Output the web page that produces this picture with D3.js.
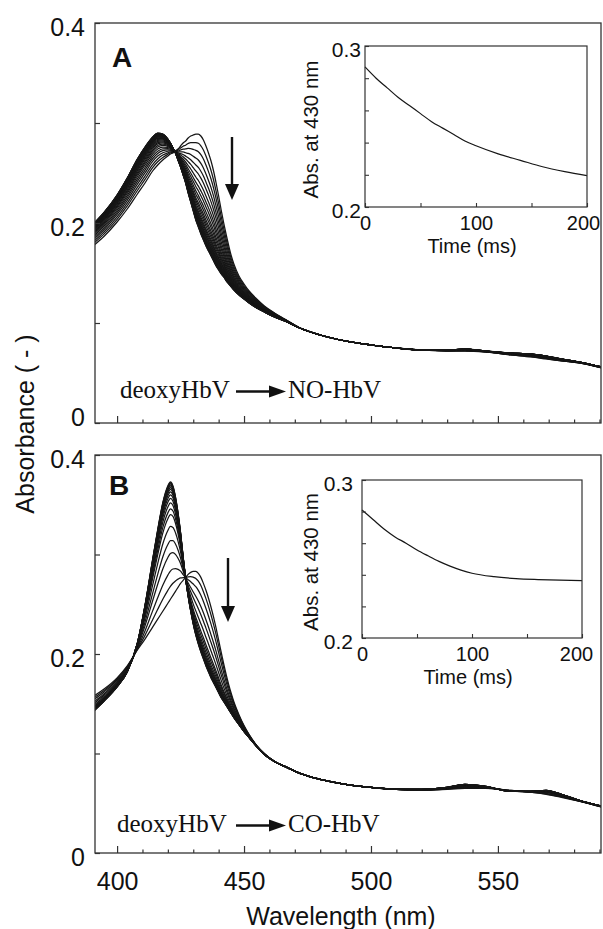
<!DOCTYPE html>
<html>
<head>
<meta charset="utf-8">
<title>deoxyHbV → NO-HbV / CO-HbV</title>
<script src="https://d3js.org/d3.v7.min.js"></script>
<style>
  body { margin: 0; background: #fff; }
  svg text { fill: #111; font-family: "Liberation Sans", Arial, sans-serif; }
</style>
</head>
<body>
<svg width="603" height="929"></svg>
<script>
// wavelength grid (nm) shared by all endpoint spectra
var wavelengths = [391, 395, 400, 404, 408, 411, 414, 416, 418, 420,
    421, 422, 423, 424, 425, 426, 427, 428, 429, 430,
    431, 432, 433, 434, 435, 436, 437, 438, 439, 440,
    441, 442, 443, 444, 445, 446,
    448, 450, 452, 455, 458, 462, 466, 472,
    480, 490, 500, 510, 520, 530, 537, 545,
    555, 563, 569, 575, 582, 591];

// panel A: first (deoxyHbV) and last (NO-HbV) spectra
var deoxyA = [0.178, 0.187, 0.201, 0.214, 0.229, 0.240, 0.252, 0.258, 0.263, 0.267,
    0.269, 0.270, 0.272, 0.274, 0.277, 0.280, 0.282, 0.285, 0.287, 0.288,
    0.289, 0.289, 0.287, 0.283, 0.277, 0.270, 0.262, 0.252, 0.240, 0.227,
    0.213, 0.200, 0.188, 0.177, 0.167, 0.159,
    0.147, 0.139, 0.132, 0.124, 0.117, 0.110, 0.104, 0.095,
    0.088, 0.082, 0.078, 0.075, 0.073, 0.072, 0.072, 0.071,
    0.068, 0.066, 0.064, 0.062, 0.060, 0.055];
var noA = [0.200, 0.211, 0.228, 0.245, 0.264, 0.276, 0.286, 0.290, 0.289, 0.284,
    0.280, 0.275, 0.270, 0.263, 0.256, 0.248, 0.240, 0.230, 0.221, 0.212,
    0.203, 0.196, 0.189, 0.183, 0.177, 0.172, 0.167, 0.162, 0.157, 0.153,
    0.149, 0.146, 0.142, 0.139, 0.136, 0.133,
    0.128, 0.124, 0.120, 0.115, 0.111, 0.106, 0.102, 0.095,
    0.088, 0.082, 0.078, 0.075, 0.073, 0.073, 0.074, 0.072,
    0.070, 0.069, 0.067, 0.064, 0.061, 0.056];
// fraction converted for each recorded spectrum
var fracA = [0, 0.1, 0.19, 0.28, 0.36, 0.43, 0.5, 0.56, 0.61, 0.66, 0.7, 0.74, 0.77, 0.8,
    0.83, 0.85, 0.87, 0.89, 0.905, 0.92, 0.935, 0.948, 0.96, 0.97, 0.98, 0.988, 0.995, 1];

// panel B: first (deoxyHbV) and last (CO-HbV) spectra
var deoxyB = [0.158, 0.165, 0.176, 0.188, 0.204, 0.215, 0.227, 0.235, 0.243, 0.251,
    0.255, 0.259, 0.263, 0.267, 0.271, 0.274, 0.277, 0.280, 0.282, 0.283,
    0.283, 0.281, 0.277, 0.271, 0.264, 0.256, 0.247, 0.237, 0.226, 0.214,
    0.202, 0.190, 0.179, 0.169, 0.160, 0.152,
    0.139, 0.128, 0.119, 0.108, 0.100, 0.092, 0.087, 0.080,
    0.074, 0.069, 0.066, 0.064, 0.063, 0.064, 0.065, 0.065,
    0.063, 0.061, 0.059, 0.056, 0.052, 0.046];
var coB = [0.143, 0.153, 0.167, 0.182, 0.211, 0.249, 0.295, 0.325, 0.352, 0.369,
    0.373, 0.369, 0.358, 0.342, 0.322, 0.298, 0.276, 0.258, 0.243, 0.230,
    0.219, 0.210, 0.202, 0.195, 0.188, 0.182, 0.176, 0.171, 0.166, 0.161,
    0.156, 0.152, 0.148, 0.144, 0.140, 0.136,
    0.129, 0.122, 0.116, 0.107, 0.099, 0.092, 0.087, 0.080,
    0.074, 0.069, 0.066, 0.064, 0.064, 0.066, 0.069, 0.067,
    0.062, 0.062, 0.063, 0.059, 0.053, 0.047];
var fracB = [0, 0.11, 0.24, 0.39, 0.5, 0.62, 0.72, 0.77, 0.82, 0.86, 0.89, 0.915,
    0.935, 0.95, 0.965, 0.975, 0.985, 0.993, 1];

// insets: absorbance at 430 nm vs time
var insetTime = [0, 10, 20, 30, 40, 50, 60, 70, 80, 90, 100, 120, 140, 160, 180, 200];
var insetAbsA = [0.287, 0.280, 0.274, 0.268, 0.263, 0.258, 0.253, 0.249, 0.245, 0.241,
    0.238, 0.233, 0.229, 0.225, 0.222, 0.2195];
var insetAbsB = [0.281, 0.275, 0.269, 0.264, 0.260, 0.2557, 0.252, 0.2485, 0.2455, 0.243,
    0.241, 0.2388, 0.2376, 0.237, 0.2366, 0.2363];

var yTicks = [0, 0.1, 0.2, 0.3, 0.4];
var xMajor = [400, 450, 500, 550];
var xMinor = d3.range(400, 591, 10).filter(function(d) { return d % 50 !== 0; });
var insetYTicks = [0.2, 0.22, 0.24, 0.26, 0.28, 0.3];
var insetXTicks = [0, 50, 100, 150, 200];

var svg = d3.select("svg");
var ink = "#161616";

var x = d3.scaleLinear().domain([391.3, 590.6]).range([95, 601]);

function drawPanel(p) {
    var y = d3.scaleLinear().domain([0, 0.4]).range([p.bottom, p.top]);
    var g = svg.append("g");

    g.append("clipPath").attr("id", "clip" + p.name)
        .append("rect").attr("x", 95).attr("y", p.top)
        .attr("width", 506).attr("height", p.bottom - p.top);

    var line = d3.line()
        .x(function(d) { return x(d[0]); })
        .y(function(d) { return y(d[1]); })
        .curve(d3.curveMonotoneX);

    // each recorded spectrum = mixture of first and last spectrum
    var curves = p.frac.map(function(f) {
        return wavelengths.map(function(w, i) {
            return [w, p.start[i] * (1 - f) + p.end[i] * f];
        });
    });
    g.append("g").attr("clip-path", "url(#clip" + p.name + ")")
        .selectAll("path").data(curves).enter().append("path")
        .attr("d", line)
        .attr("fill", "none")
        .attr("stroke", ink)
        .attr("stroke-width", 1.25);

    // y axis, ticks inward
    var ya = g.append("g").attr("transform", "translate(95,0)")
        .call(d3.axisLeft(y).tickValues(yTicks).tickSizeInner(-5).tickSizeOuter(0)
            .tickPadding(10)
            .tickFormat(function(d) {
                if (d === 0) return "0";
                return (Math.round(d * 10) % 2 === 0) ? d3.format(".1f")(d) : "";
            }));
    ya.selectAll("text").attr("font-size", 25).attr("dy", "0.5em")
        .filter(function(d) { return d === 0 && p.name === "A"; }).attr("dy", "0.1em");

    // x axis, major and minor ticks inward
    var xa = g.append("g").attr("transform", "translate(0," + p.bottom + ")")
        .call(d3.axisBottom(x).tickValues(xMajor).tickSizeInner(-7).tickSizeOuter(0)
            .tickPadding(19)
            .tickFormat(p.xLabels ? d3.format("d") : function() { return ""; }));
    xa.selectAll("text").attr("font-size", 25);
    g.append("g").attr("transform", "translate(0," + p.bottom + ")")
        .call(d3.axisBottom(x).tickValues(xMinor).tickSizeInner(-3.5).tickSizeOuter(0)
            .tickFormat(function() { return ""; }));

    g.selectAll(".domain").remove();
    g.selectAll(".tick line").attr("stroke", "#333").attr("stroke-width", 1.2);

    g.append("rect").attr("x", 95).attr("y", p.top)
        .attr("width", 506).attr("height", p.bottom - p.top)
        .attr("fill", "none").attr("stroke", "#333").attr("stroke-width", 1.3);

    // panel letter
    g.append("text").attr("x", p.letterX).attr("y", p.letterY)
        .attr("font-size", 28).attr("font-weight", "bold").text(p.name);

    // downward arrow
    g.append("line").attr("x1", p.arrowX).attr("x2", p.arrowX)
        .attr("y1", p.arrowTop).attr("y2", p.arrowBottom - 12)
        .attr("stroke", "#111").attr("stroke-width", 2.4);
    g.append("path")
        .attr("d", "M" + (p.arrowX - 7) + "," + (p.arrowBottom - 16) +
            " L" + p.arrowX + "," + p.arrowBottom +
            " L" + (p.arrowX + 7) + "," + (p.arrowBottom - 16) + " Z")
        .attr("fill", "#111");

    // reaction label
    var t = g.append("g").attr("transform", "translate(0," + p.reactY + ")");
    t.append("text").attr("x", p.reactX).attr("y", 0)
        .style("font-family", "'Liberation Serif', 'Times New Roman', serif")
        .attr("font-size", 25).text("deoxyHbV");
    t.append("line").attr("x1", 236).attr("x2", 272).attr("y1", -6.5).attr("y2", -6.5)
        .attr("stroke", "#111").attr("stroke-width", 2.4);
    t.append("path").attr("d", "M269,-12.5 L286,-6.5 L269,-0.5 Z").attr("fill", "#111");
    t.append("text").attr("x", 288).attr("y", 0)
        .style("font-family", "'Liberation Serif', 'Times New Roman', serif")
        .attr("font-size", 25).text(p.product);
}

function drawInset(s) {
    var ix = d3.scaleLinear().domain([0, 200]).range([s.left, s.right]);
    var iy = d3.scaleLinear().domain([0.2, 0.3]).range([s.bottom, s.top]);
    var g = svg.append("g");

    g.append("rect").attr("x", s.left).attr("y", s.top)
        .attr("width", s.right - s.left).attr("height", s.bottom - s.top)
        .attr("fill", "#fff");

    g.append("path")
        .datum(insetTime.map(function(t, i) { return [t, s.values[i]]; }))
        .attr("d", d3.line()
            .x(function(d) { return ix(d[0]); })
            .y(function(d) { return iy(d[1]); })
            .curve(d3.curveMonotoneX))
        .attr("fill", "none").attr("stroke", ink).attr("stroke-width", 1.2);

    var ya = g.append("g").attr("transform", "translate(" + s.left + ",0)")
        .call(d3.axisLeft(iy).tickValues(insetYTicks).tickSizeInner(-4).tickSizeOuter(0)
            .tickPadding(s.yPad)
            .tickFormat(function(d) {
                return (d === 0.2 || d === 0.3) ? d3.format(".1f")(d) : "";
            }));
    ya.selectAll("text").attr("font-size", 21).attr("dy", "0.5em");

    var xa = g.append("g").attr("transform", "translate(0," + s.bottom + ")")
        .call(d3.axisBottom(ix).tickValues(insetXTicks).tickSizeInner(-4).tickSizeOuter(0)
            .tickPadding(9)
            .tickFormat(function(d) { return d % 100 === 0 ? String(d) : ""; }));
    xa.selectAll("text").attr("font-size", 20)
        .filter(function(d) { return d === 200; }).attr("dx", s.endShift);

    g.selectAll(".domain").remove();
    g.selectAll(".tick line").attr("stroke", "#333").attr("stroke-width", 1.1);

    g.append("rect").attr("x", s.left).attr("y", s.top)
        .attr("width", s.right - s.left).attr("height", s.bottom - s.top)
        .attr("fill", "none").attr("stroke", "#333").attr("stroke-width", 1.2);

    g.append("text").attr("x", (s.left + s.right) / 2 - 4).attr("y", s.bottom + 46)
        .attr("text-anchor", "middle").attr("font-size", 20).text("Time (ms)");
    g.append("text")
        .attr("transform", "translate(318," + ((s.top + s.bottom) / 2 + 3) + ") rotate(-90)")
        .attr("text-anchor", "middle").attr("font-size", 20.5).text("Abs. at 430 nm");
}

drawPanel({name: "A", top: 23, bottom: 423, start: deoxyA, end: noA, frac: fracA,
    xLabels: false, letterX: 112, letterY: 67, arrowX: 232, arrowTop: 137, arrowBottom: 200,
    reactX: 120, reactY: 398, product: "NO-HbV"});
drawPanel({name: "B", top: 455, bottom: 853, start: deoxyB, end: coB, frac: fracB,
    xLabels: true, letterX: 109, letterY: 495, arrowX: 228, arrowTop: 558, arrowBottom: 622,
    reactX: 117, reactY: 832, product: "CO-HbV"});

drawInset({left: 365, right: 587, top: 46, bottom: 207, values: insetAbsA, yPad: 4, endShift: -4});
drawInset({left: 362, right: 582, top: 480, bottom: 638, values: insetAbsB, yPad: 9, endShift: -6});

// shared axis titles
svg.append("text").attr("transform", "translate(34,424) rotate(-90)")
    .attr("text-anchor", "middle").attr("font-size", 25).text("Absorbance ( - )");
svg.append("text").attr("x", 341).attr("y", 925)
    .attr("text-anchor", "middle").attr("font-size", 25).text("Wavelength (nm)");
</script>
</body>
</html>
